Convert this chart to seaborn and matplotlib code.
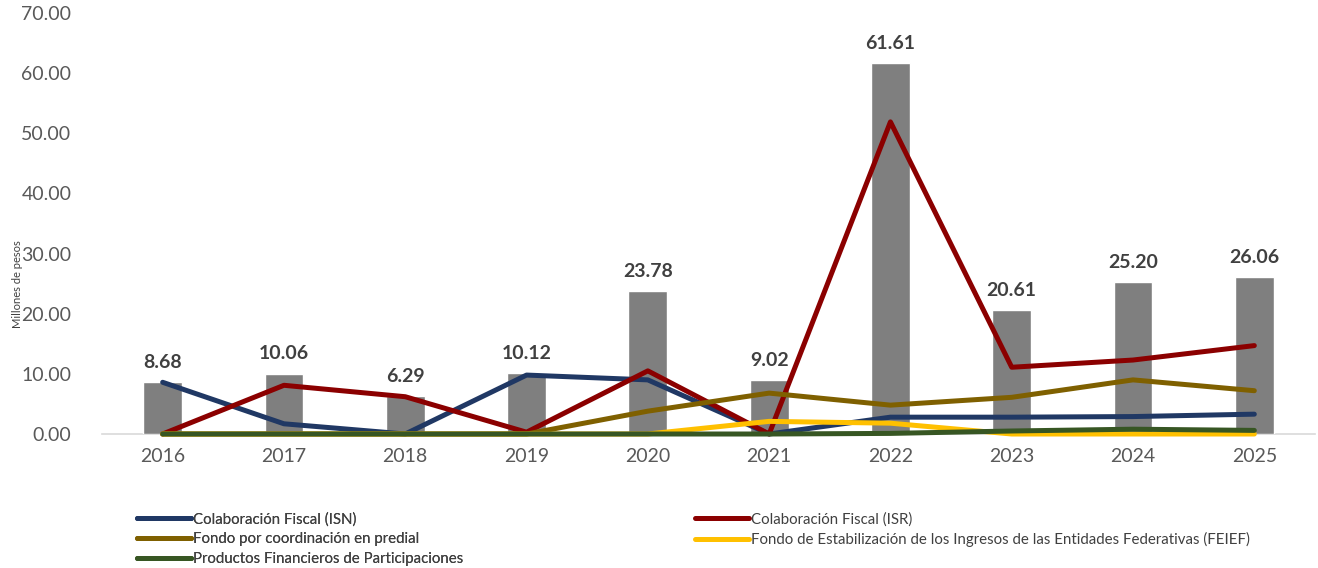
import numpy as np
import pandas as pd
import seaborn as sns
import matplotlib.pyplot as plt

# Chart data (millones de pesos)
years = ['2016', '2017', '2018', '2019', '2020', '2021', '2022', '2023', '2024', '2025']
totals = [8.68, 10.06, 6.29, 10.12, 23.78, 9.02, 61.61, 20.61, 25.20, 26.06]

isn = [8.6, 1.7, 0.0, 9.8, 9.0, 0.0, 2.8, 2.8, 2.9, 3.3]
isr = [0.0, 8.1, 6.2, 0.3, 10.5, 0.0, 51.9, 11.1, 12.3, 14.7]
predial = [0.0, 0.0, 0.0, 0.0, 3.8, 6.8, 4.8, 6.1, 9.0, 7.2]
feief = [0.0, 0.0, 0.0, 0.0, 0.0, 2.1, 1.8, 0.0, 0.0, 0.0]
productos = [0.0, 0.0, 0.0, 0.0, 0.0, 0.0, 0.1, 0.5, 0.8, 0.6]

series_names = ['Colaboración Fiscal (ISN)',
                'Colaboración Fiscal (ISR)',
                'Fondo por coordinación en predial',
                'Fondo de Estabilización de los Ingresos de las Entidades Federativas (FEIEF)',
                'Productos Financieros de Participaciones']
series_values = [isn, isr, predial, feief, productos]
series_colors = ['#203864', '#8B0000', '#7F6000', '#FFC000', '#375623']


def main():
    sns.set_theme(style='white')
    plt.rcParams['font.family'] = ['Lato', 'DejaVu Sans']

    fig = plt.figure(figsize=(13.18, 5.68), dpi=100)
    ax = fig.add_axes([0.0774, 0.2359, 0.9203, 0.7412])

    bars = pd.DataFrame({'Año': years, 'Total': totals})
    sns.barplot(data=bars, x='Año', y='Total', color='#7F7F7F',
                saturation=1, width=0.32, ax=ax, zorder=1)
    ax.bar_label(ax.containers[0], labels=['{:.2f}'.format(v) for v in totals],
                 padding=8, fontsize=14, fontweight='bold', color='#404040')

    # Lines (not clipped so the zero values keep full thickness)
    handles = []
    for name, vals, col in zip(series_names, series_values, series_colors):
        df = pd.DataFrame({'Año': years, 'Valor': vals})
        sns.lineplot(data=df, x='Año', y='Valor', color=col, linewidth=3.6,
                     ax=ax, zorder=3, sort=False, clip_on=False,
                     solid_capstyle='round', solid_joinstyle='round')
        handles.append(ax.lines[-1])

    ax.set_ylim(0, 70)
    ax.set_xlim(-0.5, 9.5)
    ax.set_yticks(np.arange(0, 71, 10))
    ax.set_yticklabels(['{:.2f}'.format(v) for v in np.arange(0, 71, 10)])
    ax.tick_params(axis='both', labelsize=14, colors='#595959', length=0)
    ax.tick_params(axis='x', pad=10)
    ax.tick_params(axis='y', pad=22)
    ax.set_xlabel('')
    ax.set_ylabel('')
    fig.text(0.013, 0.5, 'Millones de pesos', rotation=90, fontsize=8,
             color='#404040', ha='center', va='center')
    for side in ['top', 'right', 'left']:
        ax.spines[side].set_visible(False)
    ax.spines['bottom'].set_color('#D9D9D9')
    ax.spines['bottom'].set_linewidth(1.2)
    ax.spines['bottom'].set_zorder(0)

    # Legend in two blocks
    leg_kw = dict(frameon=False, fontsize=10.8, handlelength=3.6,
                  handletextpad=0.15, labelspacing=0.38, borderaxespad=0,
                  borderpad=0, labelcolor='#404040')
    left = [0, 2, 4]
    right = [1, 3]
    leg1 = fig.legend([handles[i] for i in left], [series_names[i] for i in left],
                      loc='upper left', bbox_to_anchor=(0.104, 0.098), **leg_kw)
    leg2 = fig.legend([handles[i] for i in right], [series_names[i] for i in right],
                      loc='upper left', bbox_to_anchor=(0.527, 0.098), **leg_kw)
    fig.add_artist(leg1)

    fig.savefig('out.png', dpi=100)


if __name__ == '__main__':
    main()
